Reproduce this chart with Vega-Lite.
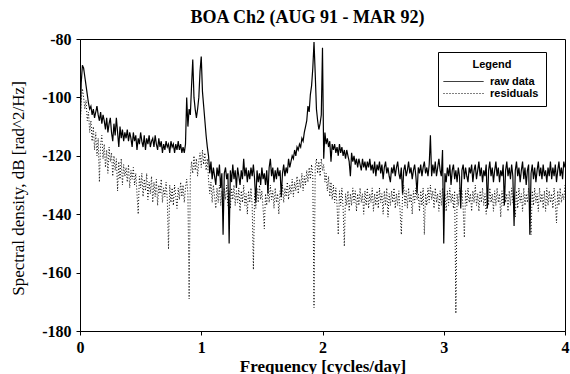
{
"$schema": "https://vega.github.io/schema/vega-lite/v6.json",
"width": 485, "height": 292,
"autosize": {"type": "none"},
"padding": {"left": 80, "top": 39, "right": 5, "bottom": 43},
"background": "white",
"title": {"text": "BOA Ch2 (AUG 91 - MAR 92)", "font": "Liberation Serif", "fontSize": 18, "fontWeight": "bold", "color": "black", "offset": 4, "dx": -15},
"config": {"view": {"stroke": "black", "strokeWidth": 1}},
"data": {"values": [
{"f":0.00,"r":-112,"d":-113},{"f":0.01,"r":-95,"d":-101},{"f":0.02,"r":-89,"d":-97},{"f":0.03,"r":-90,"d":-100},{"f":0.04,"r":-93,"d":-104},{"f":0.05,"r":-96,"d":-101},{"f":0.06,"r":-99,"d":-108},{"f":0.07,"r":-102,"d":-105},{"f":0.08,"r":-104,"d":-112},{"f":0.09,"r":-103,"d":-108},
{"f":0.10,"r":-106,"d":-115},{"f":0.11,"r":-104,"d":-110},{"f":0.12,"r":-107,"d":-118},{"f":0.13,"r":-105,"d":-112},{"f":0.14,"r":-103,"d":-120},{"f":0.15,"r":-106,"d":-114},{"f":0.16,"r":-108,"d":-129},{"f":0.17,"r":-105,"d":-116},{"f":0.18,"r":-109,"d":-113},{"f":0.19,"r":-106,"d":-121},
{"f":0.20,"r":-108,"d":-116},{"f":0.21,"r":-111,"d":-124},{"f":0.22,"r":-107,"d":-118},{"f":0.23,"r":-112,"d":-126},{"f":0.24,"r":-109,"d":-117},{"f":0.25,"r":-107,"d":-122},{"f":0.26,"r":-112,"d":-119},{"f":0.27,"r":-115,"d":-127},{"f":0.28,"r":-109,"d":-120},{"f":0.29,"r":-113,"d":-125},
{"f":0.30,"r":-107,"d":-121},{"f":0.31,"r":-112,"d":-132},{"f":0.32,"r":-117,"d":-122},{"f":0.33,"r":-110,"d":-128},{"f":0.34,"r":-114,"d":-121},{"f":0.35,"r":-111,"d":-130},{"f":0.36,"r":-115,"d":-123},{"f":0.37,"r":-112,"d":-127},{"f":0.38,"r":-114,"d":-124},{"f":0.39,"r":-111,"d":-129},
{"f":0.40,"r":-115,"d":-123},{"f":0.41,"r":-112,"d":-131},{"f":0.42,"r":-114,"d":-125},{"f":0.43,"r":-117,"d":-128},{"f":0.44,"r":-112,"d":-124},{"f":0.45,"r":-115,"d":-130},{"f":0.46,"r":-113,"d":-126},{"f":0.47,"r":-118,"d":-133},{"f":0.48,"r":-114,"d":-140},{"f":0.49,"r":-116,"d":-127},
{"f":0.50,"r":-112,"d":-131},{"f":0.51,"r":-115,"d":-126},{"f":0.52,"r":-117,"d":-134},{"f":0.53,"r":-113,"d":-128},{"f":0.54,"r":-118,"d":-132},{"f":0.55,"r":-114,"d":-126},{"f":0.56,"r":-116,"d":-135},{"f":0.57,"r":-113,"d":-129},{"f":0.58,"r":-117,"d":-133},{"f":0.59,"r":-115,"d":-127},
{"f":0.60,"r":-114,"d":-136},{"f":0.61,"r":-117,"d":-129},{"f":0.62,"r":-113,"d":-134},{"f":0.63,"r":-116,"d":-128},{"f":0.64,"r":-118,"d":-137},{"f":0.65,"r":-114,"d":-130},{"f":0.66,"r":-117,"d":-133},{"f":0.67,"r":-115,"d":-128},{"f":0.68,"r":-119,"d":-136},{"f":0.69,"r":-116,"d":-131},
{"f":0.70,"r":-118,"d":-134},{"f":0.71,"r":-115,"d":-129},{"f":0.72,"r":-117,"d":-135},{"f":0.73,"r":-116,"d":-152},{"f":0.74,"r":-119,"d":-130},{"f":0.75,"r":-115,"d":-136},{"f":0.76,"r":-117,"d":-131},{"f":0.77,"r":-116,"d":-137},{"f":0.78,"r":-119,"d":-130},{"f":0.79,"r":-116,"d":-134},
{"f":0.80,"r":-118,"d":-138},{"f":0.81,"r":-115,"d":-131},{"f":0.82,"r":-118,"d":-135},{"f":0.83,"r":-116,"d":-129},{"f":0.84,"r":-119,"d":-134},{"f":0.85,"r":-117,"d":-130},{"f":0.86,"r":-119,"d":-136},{"f":0.87,"r":-116,"d":-131},{"f":0.88,"r":-100,"d":-128},{"f":0.89,"r":-110,"d":-133},
{"f":0.90,"r":-104,"d":-169},{"f":0.91,"r":-106,"d":-127},{"f":0.92,"r":-96,"d":-122},{"f":0.93,"r":-87,"d":-126},{"f":0.94,"r":-100,"d":-120},{"f":0.95,"r":-104,"d":-125},{"f":0.96,"r":-107,"d":-121},{"f":0.97,"r":-104,"d":-127},{"f":0.98,"r":-100,"d":-122},{"f":0.99,"r":-91,"d":-119},
{"f":1.00,"r":-86,"d":-124},{"f":1.01,"r":-98,"d":-118},{"f":1.02,"r":-103,"d":-123},{"f":1.03,"r":-108,"d":-119},{"f":1.04,"r":-113,"d":-125},{"f":1.05,"r":-117,"d":-121},{"f":1.06,"r":-120,"d":-128},{"f":1.07,"r":-126,"d":-133},{"f":1.08,"r":-122,"d":-129},{"f":1.09,"r":-128,"d":-136},
{"f":1.10,"r":-124,"d":-130},{"f":1.11,"r":-127,"d":-134},{"f":1.12,"r":-130,"d":-138},{"f":1.13,"r":-124,"d":-131},{"f":1.14,"r":-127,"d":-136},{"f":1.15,"r":-123,"d":-130},{"f":1.16,"r":-131,"d":-137},{"f":1.17,"r":-126,"d":-132},{"f":1.18,"r":-147,"d":-139},{"f":1.19,"r":-126,"d":-131},
{"f":1.20,"r":-124,"d":-135},{"f":1.21,"r":-128,"d":-130},{"f":1.22,"r":-126,"d":-137},{"f":1.23,"r":-150,"d":-132},{"f":1.24,"r":-125,"d":-138},{"f":1.25,"r":-129,"d":-131},{"f":1.26,"r":-123,"d":-135},{"f":1.27,"r":-128,"d":-130},{"f":1.28,"r":-125,"d":-137},{"f":1.29,"r":-131,"d":-132},
{"f":1.30,"r":-124,"d":-136},{"f":1.31,"r":-127,"d":-131},{"f":1.32,"r":-130,"d":-139},{"f":1.33,"r":-125,"d":-132},{"f":1.34,"r":-128,"d":-136},{"f":1.35,"r":-121,"d":-130},{"f":1.36,"r":-127,"d":-137},{"f":1.37,"r":-124,"d":-133},{"f":1.38,"r":-129,"d":-140},{"f":1.39,"r":-125,"d":-132},
{"f":1.40,"r":-128,"d":-136},{"f":1.41,"r":-124,"d":-131},{"f":1.42,"r":-127,"d":-137},{"f":1.43,"r":-123,"d":-159},{"f":1.44,"r":-128,"d":-133},{"f":1.45,"r":-136,"d":-138},{"f":1.46,"r":-125,"d":-131},{"f":1.47,"r":-129,"d":-136},{"f":1.48,"r":-126,"d":-130},{"f":1.49,"r":-130,"d":-135},
{"f":1.50,"r":-124,"d":-132},{"f":1.51,"r":-128,"d":-138},{"f":1.52,"r":-126,"d":-145},{"f":1.53,"r":-130,"d":-133},{"f":1.54,"r":-125,"d":-137},{"f":1.55,"r":-133,"d":-131},{"f":1.56,"r":-124,"d":-136},{"f":1.57,"r":-121,"d":-130},{"f":1.58,"r":-127,"d":-135},{"f":1.59,"r":-124,"d":-132},
{"f":1.60,"r":-129,"d":-138},{"f":1.61,"r":-125,"d":-131},{"f":1.62,"r":-128,"d":-136},{"f":1.63,"r":-124,"d":-133},{"f":1.64,"r":-127,"d":-140},{"f":1.65,"r":-125,"d":-132},{"f":1.66,"r":-134,"d":-135},{"f":1.67,"r":-126,"d":-130},{"f":1.68,"r":-123,"d":-136},{"f":1.69,"r":-127,"d":-131},
{"f":1.70,"r":-124,"d":-134},{"f":1.71,"r":-126,"d":-129},{"f":1.72,"r":-121,"d":-135},{"f":1.73,"r":-124,"d":-130},{"f":1.74,"r":-122,"d":-133},{"f":1.75,"r":-120,"d":-128},{"f":1.76,"r":-121,"d":-134},{"f":1.77,"r":-118,"d":-129},{"f":1.78,"r":-120,"d":-132},{"f":1.79,"r":-117,"d":-127},
{"f":1.80,"r":-118,"d":-133},{"f":1.81,"r":-116,"d":-128},{"f":1.82,"r":-117,"d":-131},{"f":1.83,"r":-114,"d":-126},{"f":1.84,"r":-115,"d":-132},{"f":1.85,"r":-112,"d":-127},{"f":1.86,"r":-110,"d":-130},{"f":1.87,"r":-108,"d":-125},{"f":1.88,"r":-103,"d":-129},{"f":1.89,"r":-105,"d":-124},
{"f":1.90,"r":-99,"d":-128},{"f":1.91,"r":-96,"d":-123},{"f":1.92,"r":-90,"d":-127},{"f":1.93,"r":-81,"d":-172},{"f":1.94,"r":-92,"d":-124},{"f":1.95,"r":-104,"d":-121},{"f":1.96,"r":-108,"d":-126},{"f":1.97,"r":-111,"d":-122},{"f":1.98,"r":-109,"d":-127},{"f":1.99,"r":-106,"d":-121},
{"f":2.00,"r":-83,"d":-125},{"f":2.01,"r":-121,"d":-123},{"f":2.02,"r":-112,"d":-129},{"f":2.03,"r":-116,"d":-126},{"f":2.04,"r":-114,"d":-132},{"f":2.05,"r":-117,"d":-127},{"f":2.06,"r":-115,"d":-134},{"f":2.07,"r":-122,"d":-129},{"f":2.08,"r":-116,"d":-135},{"f":2.09,"r":-118,"d":-130},
{"f":2.10,"r":-116,"d":-136},{"f":2.11,"r":-119,"d":-131},{"f":2.12,"r":-117,"d":-137},{"f":2.13,"r":-120,"d":-147},{"f":2.14,"r":-116,"d":-132},{"f":2.15,"r":-119,"d":-137},{"f":2.16,"r":-117,"d":-131},{"f":2.17,"r":-120,"d":-138},{"f":2.18,"r":-118,"d":-151},{"f":2.19,"r":-121,"d":-133},
{"f":2.20,"r":-118,"d":-137},{"f":2.21,"r":-120,"d":-132},{"f":2.22,"r":-122,"d":-139},{"f":2.23,"r":-127,"d":-133},{"f":2.24,"r":-119,"d":-137},{"f":2.25,"r":-122,"d":-131},{"f":2.26,"r":-120,"d":-136},{"f":2.27,"r":-123,"d":-132},{"f":2.28,"r":-121,"d":-139},{"f":2.29,"r":-124,"d":-133},
{"f":2.30,"r":-121,"d":-137},{"f":2.31,"r":-123,"d":-131},{"f":2.32,"r":-125,"d":-136},{"f":2.33,"r":-121,"d":-133},{"f":2.34,"r":-124,"d":-140},{"f":2.35,"r":-122,"d":-132},{"f":2.36,"r":-125,"d":-137},{"f":2.37,"r":-122,"d":-131},{"f":2.38,"r":-124,"d":-138},{"f":2.39,"r":-121,"d":-133},
{"f":2.40,"r":-125,"d":-136},{"f":2.41,"r":-123,"d":-131},{"f":2.42,"r":-126,"d":-139},{"f":2.43,"r":-122,"d":-133},{"f":2.44,"r":-127,"d":-137},{"f":2.45,"r":-123,"d":-132},{"f":2.46,"r":-125,"d":-138},{"f":2.47,"r":-122,"d":-131},{"f":2.48,"r":-126,"d":-136},{"f":2.49,"r":-123,"d":-133},
{"f":2.50,"r":-128,"d":-140},{"f":2.51,"r":-124,"d":-132},{"f":2.52,"r":-122,"d":-137},{"f":2.53,"r":-126,"d":-131},{"f":2.54,"r":-124,"d":-141},{"f":2.55,"r":-127,"d":-133},{"f":2.56,"r":-129,"d":-137},{"f":2.57,"r":-124,"d":-132},{"f":2.58,"r":-126,"d":-136},{"f":2.59,"r":-123,"d":-131},
{"f":2.60,"r":-127,"d":-138},{"f":2.61,"r":-124,"d":-133},{"f":2.62,"r":-122,"d":-137},{"f":2.63,"r":-126,"d":-132},{"f":2.64,"r":-128,"d":-139},{"f":2.65,"r":-124,"d":-147},{"f":2.66,"r":-133,"d":-134},{"f":2.67,"r":-125,"d":-130},{"f":2.68,"r":-123,"d":-137},{"f":2.69,"r":-127,"d":-132},
{"f":2.70,"r":-125,"d":-138},{"f":2.71,"r":-122,"d":-131},{"f":2.72,"r":-126,"d":-136},{"f":2.73,"r":-124,"d":-133},{"f":2.74,"r":-128,"d":-140},{"f":2.75,"r":-125,"d":-132},{"f":2.76,"r":-123,"d":-136},{"f":2.77,"r":-127,"d":-131},{"f":2.78,"r":-133,"d":-135},{"f":2.79,"r":-124,"d":-133},
{"f":2.80,"r":-126,"d":-139},{"f":2.81,"r":-123,"d":-132},{"f":2.82,"r":-127,"d":-137},{"f":2.83,"r":-124,"d":-131},{"f":2.84,"r":-122,"d":-147},{"f":2.85,"r":-126,"d":-133},{"f":2.86,"r":-124,"d":-137},{"f":2.87,"r":-127,"d":-131},{"f":2.88,"r":-123,"d":-136},{"f":2.89,"r":-113,"d":-130},
{"f":2.90,"r":-127,"d":-135},{"f":2.91,"r":-123,"d":-132},{"f":2.92,"r":-126,"d":-138},{"f":2.93,"r":-122,"d":-131},{"f":2.94,"r":-127,"d":-136},{"f":2.95,"r":-124,"d":-133},{"f":2.96,"r":-121,"d":-139},{"f":2.97,"r":-125,"d":-132},{"f":2.98,"r":-127,"d":-137},{"f":2.99,"r":-118,"d":-131},
{"f":3.00,"r":-150,"d":-136},{"f":3.01,"r":-126,"d":-133},{"f":3.02,"r":-129,"d":-139},{"f":3.03,"r":-124,"d":-132},{"f":3.04,"r":-127,"d":-137},{"f":3.05,"r":-123,"d":-131},{"f":3.06,"r":-130,"d":-136},{"f":3.07,"r":-125,"d":-133},{"f":3.08,"r":-123,"d":-138},{"f":3.09,"r":-128,"d":-132},
{"f":3.10,"r":-125,"d":-174},{"f":3.11,"r":-129,"d":-133},{"f":3.12,"r":-124,"d":-137},{"f":3.13,"r":-127,"d":-131},{"f":3.14,"r":-138,"d":-135},{"f":3.15,"r":-125,"d":-132},{"f":3.16,"r":-123,"d":-138},{"f":3.17,"r":-128,"d":-148},{"f":3.18,"r":-124,"d":-132},{"f":3.19,"r":-127,"d":-137},
{"f":3.20,"r":-129,"d":-131},{"f":3.21,"r":-124,"d":-136},{"f":3.22,"r":-126,"d":-133},{"f":3.23,"r":-123,"d":-139},{"f":3.24,"r":-129,"d":-132},{"f":3.25,"r":-125,"d":-136},{"f":3.26,"r":-123,"d":-130},{"f":3.27,"r":-128,"d":-137},{"f":3.28,"r":-125,"d":-133},{"f":3.29,"r":-122,"d":-139},
{"f":3.30,"r":-127,"d":-132},{"f":3.31,"r":-124,"d":-136},{"f":3.32,"r":-129,"d":-131},{"f":3.33,"r":-125,"d":-137},{"f":3.34,"r":-127,"d":-133},{"f":3.35,"r":-123,"d":-140},{"f":3.36,"r":-138,"d":-132},{"f":3.37,"r":-125,"d":-137},{"f":3.38,"r":-122,"d":-131},{"f":3.39,"r":-127,"d":-136},
{"f":3.40,"r":-124,"d":-133},{"f":3.41,"r":-129,"d":-139},{"f":3.42,"r":-125,"d":-132},{"f":3.43,"r":-122,"d":-137},{"f":3.44,"r":-127,"d":-131},{"f":3.45,"r":-124,"d":-136},{"f":3.46,"r":-129,"d":-133},{"f":3.47,"r":-125,"d":-141},{"f":3.48,"r":-127,"d":-132},{"f":3.49,"r":-123,"d":-137},
{"f":3.50,"r":-137,"d":-131},{"f":3.51,"r":-125,"d":-136},{"f":3.52,"r":-122,"d":-133},{"f":3.53,"r":-127,"d":-139},{"f":3.54,"r":-124,"d":-132},{"f":3.55,"r":-128,"d":-137},{"f":3.56,"r":-123,"d":-131},{"f":3.57,"r":-127,"d":-136},{"f":3.58,"r":-144,"d":-134},{"f":3.59,"r":-125,"d":-141},
{"f":3.60,"r":-122,"d":-132},{"f":3.61,"r":-127,"d":-138},{"f":3.62,"r":-124,"d":-131},{"f":3.63,"r":-129,"d":-136},{"f":3.64,"r":-125,"d":-133},{"f":3.65,"r":-122,"d":-139},{"f":3.66,"r":-128,"d":-131},{"f":3.67,"r":-124,"d":-137},{"f":3.68,"r":-130,"d":-133},{"f":3.69,"r":-125,"d":-136},
{"f":3.70,"r":-123,"d":-131},{"f":3.71,"r":-147,"d":-138},{"f":3.72,"r":-126,"d":-147},{"f":3.73,"r":-123,"d":-132},{"f":3.74,"r":-128,"d":-137},{"f":3.75,"r":-124,"d":-131},{"f":3.76,"r":-129,"d":-136},{"f":3.77,"r":-125,"d":-133},{"f":3.78,"r":-122,"d":-139},{"f":3.79,"r":-127,"d":-131},
{"f":3.80,"r":-124,"d":-136},{"f":3.81,"r":-128,"d":-133},{"f":3.82,"r":-123,"d":-138},{"f":3.83,"r":-127,"d":-132},{"f":3.84,"r":-125,"d":-139},{"f":3.85,"r":-129,"d":-131},{"f":3.86,"r":-124,"d":-137},{"f":3.87,"r":-127,"d":-132},{"f":3.88,"r":-122,"d":-136},{"f":3.89,"r":-128,"d":-133},
{"f":3.90,"r":-124,"d":-138},{"f":3.91,"r":-127,"d":-131},{"f":3.92,"r":-123,"d":-136},{"f":3.93,"r":-129,"d":-143},{"f":3.94,"r":-125,"d":-132},{"f":3.95,"r":-122,"d":-137},{"f":3.96,"r":-127,"d":-131},{"f":3.97,"r":-124,"d":-136},{"f":3.98,"r":-128,"d":-133},{"f":3.99,"r":-122,"d":-135},
{"f":4.00,"r":-124,"d":-130}
]},
"encoding": {
  "x": {"field": "f", "type": "quantitative", "scale": {"domain": [0, 4], "nice": false},
        "axis": {"title": "Frequency [cycles/day]", "values": [0, 1, 2, 3, 4], "format": "d", "grid": false,
                 "labelFont": "Liberation Serif", "labelFontSize": 16, "labelFontWeight": "bold", "labelColor": "black",
                 "titleFont": "Liberation Serif", "titleFontSize": 17, "titleFontWeight": "bold", "titleColor": "black",
                 "titleY": 40, "titleBaseline": "alphabetic",
                 "domainColor": "black", "tickColor": "black", "tickSize": 4, "labelPadding": 4, "labelFlush": false}}
},
"layer": [
  {"mark": {"type": "line", "color": "black", "strokeWidth": 1, "clip": true},
   "encoding": {
     "y": {"field": "d", "type": "quantitative", "scale": {"domain": [-180, -80], "nice": false},
        "axis": {"title": "Spectral density, dB [rad^2/Hz]", "values": [-180, -160, -140, -120, -100, -80], "grid": false,
                 "labelExpr": "'' + datum.value",
                 "labelFont": "Liberation Serif", "labelFontSize": 16, "labelFontWeight": "bold", "labelColor": "black",
                 "titleFont": "Liberation Serif", "titleFontSize": 17, "titleFontWeight": "normal", "titleColor": "black",
                 "titleX": -53, "titleY": 149, "titleAngle": -90, "titleAlign": "center", "titleBaseline": "bottom",
                 "domainColor": "black", "tickColor": "black", "tickSize": 4, "labelPadding": 5, "labelFlush": false}},
     "strokeDash": {"datum": "residuals", "type": "nominal",
      "scale": {"domain": ["raw data", "residuals"], "range": [[1, 0], [1, 2]]},
      "legend": {"title": "Legend", "orient": "none", "legendX": 358, "legendY": 13,
                 "strokeColor": "black", "fillColor": "white", "padding": 7,
                 "titleFont": "Liberation Sans", "titleFontSize": 11, "titleFontWeight": "bold", "titleColor": "black",
                 "titleAnchor": "middle", "titleAlign": "center", "titlePadding": 6,
                 "labelFont": "Liberation Sans", "labelFontSize": 11, "labelFontWeight": "bold", "labelColor": "black",
                 "labelOffset": 21, "symbolOffset": 13,
                 "symbolType": "M-8,0H8", "symbolSize": 25, "symbolStrokeColor": "black", "symbolStrokeWidth": 1, "rowPadding": 0}}}},
  {"mark": {"type": "line", "color": "black", "strokeWidth": 1.2, "clip": true},
   "encoding": {
     "y": {"field": "r", "type": "quantitative", "scale": {"domain": [-180, -80], "nice": false},
        "axis": {"title": "Spectral density, dB [rad^2/Hz]", "values": [-180, -160, -140, -120, -100, -80], "grid": false,
                 "labelExpr": "'' + datum.value",
                 "labelFont": "Liberation Serif", "labelFontSize": 16, "labelFontWeight": "bold", "labelColor": "black",
                 "titleFont": "Liberation Serif", "titleFontSize": 17, "titleFontWeight": "normal", "titleColor": "black",
                 "titleX": -53, "titleY": 149, "titleAngle": -90, "titleAlign": "center", "titleBaseline": "bottom",
                 "domainColor": "black", "tickColor": "black", "tickSize": 4, "labelPadding": 5, "labelFlush": false}},
     "strokeDash": {"datum": "raw data", "type": "nominal"}}}
]
}
